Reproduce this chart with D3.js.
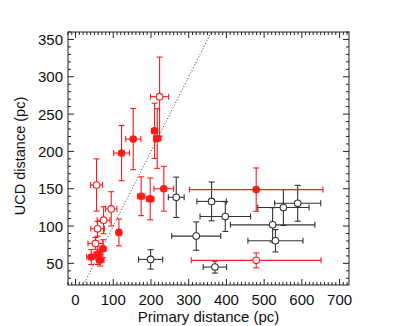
<!DOCTYPE html>
<html>
<head>
<meta charset="utf-8">
<script src="https://d3js.org/d3.v7.min.js"></script>
<style>
  body { margin: 0; background: #fff; }
  text { font-family: "Liberation Sans", Arial, sans-serif; }
</style>
</head>
<body>
<div id="chart"></div>
<script>
// red, filled: primary distance, UCD distance, errors
var redFilledX  = [41.6, 59, 65.5, 72.5, 115, 122, 153, 209.5, 216.6, 174, 198, 234, 479];
var redFilledY  = [58.4, 62.5, 54.4, 69.6, 91.5, 197.8, 216.5, 227.6, 217.3, 139.9, 136.4, 150, 148.8];
var redFilledEX = [12, 10, 10, 8, 5, 21, 20, 8, 10, 10, 10, 26, 177];
var redFilledEY = [10, 14, 8, 12, 18, 37, 41, 37, 40, 26, 28, 30, 29];

// red, open
var redOpenX  = [55.7, 58.4, 53, 74.3, 94.6, 222.8, 479];
var redOpenY  = [155, 96.3, 76.7, 107.8, 123, 273.4, 54];
var redOpenEX = [16, 18, 20, 17, 15, 24, 172];
var redOpenEY = [35, 10, 8, 18, 23, 53, 10];

// black, open
var blkOpenX  = [199, 267, 360.7, 397, 320, 369.5, 522.5, 551, 589, 530];
var blkOpenY  = [55.3, 138.5, 133, 112.7, 86.5, 45, 101.6, 124.8, 130.5, 80.3];
var blkOpenEX = [32, 21, 39, 67, 65, 31, 112, 68, 61, 73];
var blkOpenEY = [13, 27, 26, 20, 19, 8, 23, 24, 24, 15];

var xTicks = [0, 100, 200, 300, 400, 500, 600, 700];
var yTicks = [50, 100, 150, 200, 250, 300, 350];

var svgWidth = 407, svgHeight = 326;
var pLeft = 68, pRight = 349, pTop = 32, pBottom = 285;

var svg = d3.select("#chart").append("svg")
  .attr("width", svgWidth)
  .attr("height", svgHeight);

var x = d3.scaleLinear().domain([-20, 725]).range([pLeft, pRight]);
var y = d3.scaleLinear().domain([21, 360]).range([pBottom, pTop]);

function rows(xs, ys, ex, ey) {
  return xs.map(function(v, i) { return {x: v, y: ys[i], ex: ex[i], ey: ey[i]}; });
}

svg.append("clipPath").attr("id", "clip")
  .append("rect").attr("x", pLeft).attr("y", pTop)
  .attr("width", pRight - pLeft).attr("height", pBottom - pTop);

var plot = svg.append("g").attr("clip-path", "url(#clip)");

// one-to-one line
plot.append("line")
  .attr("x1", x(21)).attr("y1", y(21))
  .attr("x2", x(360)).attr("y2", y(360))
  .attr("stroke", "#333").attr("stroke-width", 1)
  .attr("stroke-dasharray", "1,2");

function drawSet(data, color, open) {
  var g = plot.append("g");
  var cap = 3;
  data.forEach(function(d) {
    var cx = x(d.x), cy = y(d.y);
    var x0 = x(d.x - d.ex), x1 = x(d.x + d.ex);
    var y0 = y(d.y - d.ey), y1 = y(d.y + d.ey);
    var segs = [
      [x0, cy, x1, cy], [x0, cy - cap, x0, cy + cap], [x1, cy - cap, x1, cy + cap],
      [cx, y0, cx, y1], [cx - cap, y0, cx + cap, y0], [cx - cap, y1, cx + cap, y1]
    ];
    segs.forEach(function(s) {
      g.append("line")
        .attr("x1", s[0]).attr("y1", s[1]).attr("x2", s[2]).attr("y2", s[3])
        .attr("stroke", color).attr("stroke-width", 1.1);
    });
  });
  g.selectAll("circle").data(data).enter().append("circle")
    .attr("cx", d => x(d.x))
    .attr("cy", d => y(d.y))
    .attr("r", 3.3)
    .attr("fill", open ? "#fff" : color)
    .attr("stroke", color)
    .attr("stroke-width", 1.1);
}

drawSet(rows(blkOpenX, blkOpenY, blkOpenEX, blkOpenEY), "#333", true);
drawSet(rows(redFilledX, redFilledY, redFilledEX, redFilledEY), "#ff1a1a", false);
drawSet(rows(redOpenX, redOpenY, redOpenEX, redOpenEY), "#ff1a1a", true);

// frame
svg.append("rect")
  .attr("x", pLeft).attr("y", pTop)
  .attr("width", pRight - pLeft).attr("height", pBottom - pTop)
  .attr("fill", "none").attr("stroke", "#222").attr("stroke-width", 1);

// ticks, inward on all sides
var axes = svg.append("g").attr("stroke", "#222").attr("stroke-width", 1);
d3.range(-20, 725, 10).forEach(function(v) {
  var len = v % 100 === 0 ? 6 : 3;
  axes.append("line").attr("x1", x(v)).attr("x2", x(v)).attr("y1", pBottom).attr("y2", pBottom - len);
  axes.append("line").attr("x1", x(v)).attr("x2", x(v)).attr("y1", pTop).attr("y2", pTop + len);
});
d3.range(30, 361, 10).forEach(function(v) {
  var len = v % 50 === 0 ? 6 : 3;
  axes.append("line").attr("y1", y(v)).attr("y2", y(v)).attr("x1", pLeft).attr("x2", pLeft + len);
  axes.append("line").attr("y1", y(v)).attr("y2", y(v)).attr("x1", pRight).attr("x2", pRight - len);
});

svg.selectAll(".xt").data(xTicks).enter().append("text")
  .attr("x", d => x(d)).attr("y", 305)
  .attr("text-anchor", "middle")
  .attr("font-size", 15).attr("fill", "#111")
  .text(d => d);

svg.selectAll(".yt").data(yTicks).enter().append("text")
  .attr("x", 63).attr("y", d => y(d) + 5.5)
  .attr("text-anchor", "end")
  .attr("font-size", 15).attr("fill", "#111")
  .text(d => d);

svg.append("text")
  .attr("x", (pLeft + pRight) / 2).attr("y", 322)
  .attr("text-anchor", "middle")
  .attr("font-size", 15).attr("fill", "#111")
  .text("Primary distance (pc)");

svg.append("text")
  .attr("transform", "translate(25," + 156 + ") rotate(-90)")
  .attr("text-anchor", "middle")
  .attr("font-size", 14.5).attr("fill", "#111")
  .text("UCD distance (pc)");
</script>
</body>
</html>
